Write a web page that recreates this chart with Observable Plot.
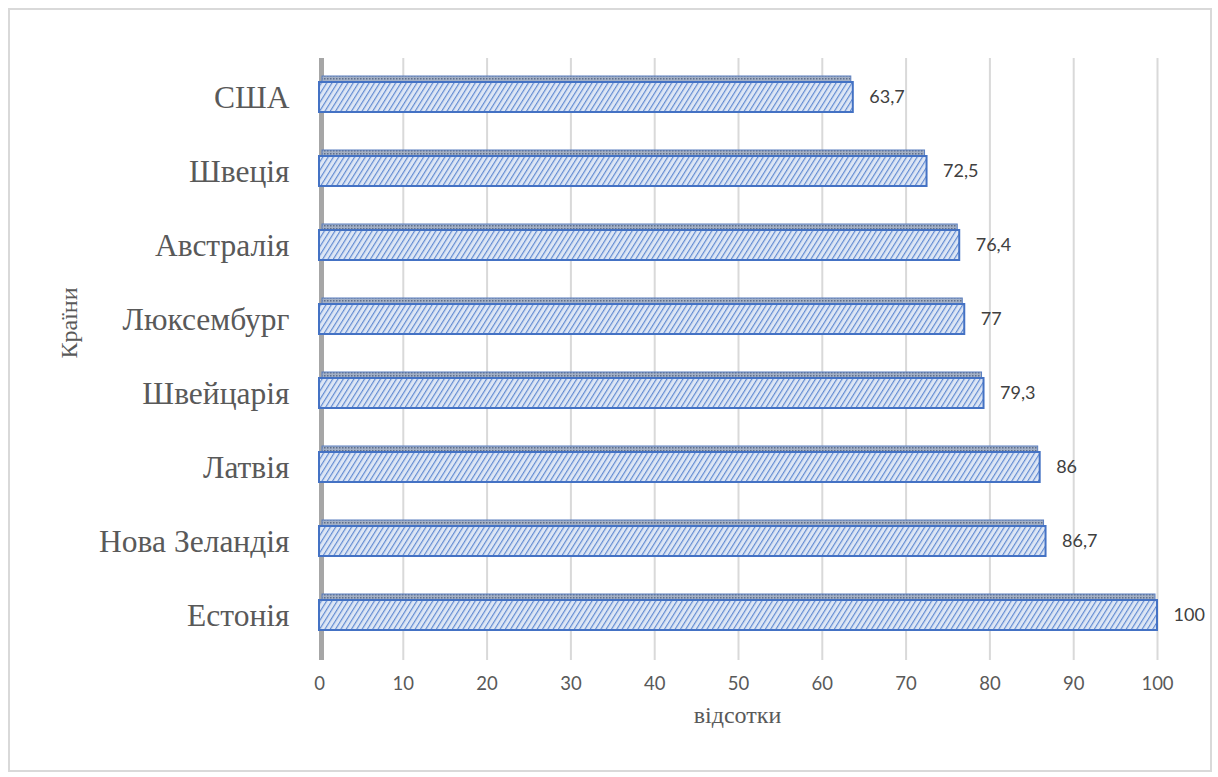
<!DOCTYPE html>
<html>
<head>
<meta charset="utf-8">
<script src="https://cdn.jsdelivr.net/npm/d3@7"></script>
<script src="https://cdn.jsdelivr.net/npm/@observablehq/plot@0.6"></script>
<style>
  html, body { margin: 0; padding: 0; background: #fff; }
  #frame { position: absolute; left: 8px; top: 8px; width: 1200px; height: 760px; border: 2px solid #d9d9d9; }
  #chart { position: absolute; left: 0; top: 0; }
</style>
</head>
<body>
<div id="frame"></div>
<div id="chart"></div>
<script>
const countries = ["США", "Швеція", "Австралія", "Люксембург", "Швейцарія", "Латвія", "Нова Зеландія", "Естонія"];
const values = [63.7, 72.5, 76.4, 77, 79.3, 86, 86.7, 100];
const valueLabels = ["63,7", "72,5", "76,4", "77", "79,3", "86", "86,7", "100"];
const xTicks = [0, 10, 20, 30, 40, 50, 60, 70, 80, 90, 100];
const yTitle = "Країни";
const xTitle = "відсотки";

const data = countries.map((c, i) => ({country: c, value: values[i], label: valueLabels[i]}));

const chart = Plot.plot({
  width: 1218,
  height: 777,
  marginLeft: 319,
  marginRight: 61,
  marginTop: 60,
  marginBottom: 125,
  style: {background: "transparent", overflow: "visible"},
  x: {domain: [0, 100], ticks: xTicks},
  y: {domain: countries, paddingInner: 0.6, paddingOuter: 0.3},
  marks: [
    Plot.ruleX(xTicks.slice(1), {stroke: "#d9d9d9", strokeWidth: 2, insetTop: -2, insetBottom: -8}),
    Plot.ruleX([0], {stroke: "#a6a6a6", strokeWidth: 5, dx: 2, insetTop: -2, insetBottom: -8}),
    Plot.barX(data, {x: "value", y: "country", fill: "url(#topface)", stroke: "#5b7fbf", strokeWidth: 1, dy: -6, insetBottom: 22, insetLeft: 3, insetRight: 2}),
    Plot.barX(data, {x: "value", y: "country", fill: "url(#hatch)", stroke: "#4472c4", strokeWidth: 2}),
    Plot.text(data, {x: "value", y: "country", text: "label", textAnchor: "start", dx: 16, fontSize: 18, fill: "#404040", fontFamily: "Lato, 'Open Sans', sans-serif"}),
    Plot.axisX({ticks: xTicks, tickSize: 0, tickPadding: 24, fontSize: 18.5, fill: "#595959", fontFamily: "Lato, 'Open Sans', sans-serif", label: null}),
    Plot.axisY({tickSize: 0, tickPadding: 30, fontSize: 31.5, fill: "#595959", fontFamily: "'Liberation Serif', 'Times New Roman', serif", label: null}),
    Plot.text([yTitle], {frameAnchor: "left", dx: -250, dy: 2, rotate: -90, fontSize: 24, fill: "#595959", fontFamily: "'Liberation Serif', 'Times New Roman', serif"}),
    Plot.text([xTitle], {frameAnchor: "bottom", dy: 70, dx: -1, fontSize: 24, fill: "#595959", fontFamily: "'Liberation Serif', 'Times New Roman', serif"})
  ]
});

const svg = d3.select(chart);
svg.insert("defs", ":first-child").html(`
  <pattern id="hatch" patternUnits="userSpaceOnUse" width="4.5" height="4.5" patternTransform="rotate(32)">
    <rect width="4.5" height="4.5" fill="#dde6f5"></rect>
    <line x1="1.5" y1="0" x2="1.5" y2="4.5" stroke="#5a85cf" stroke-width="1.1"></line>
  </pattern>
  <pattern id="topface" patternUnits="userSpaceOnUse" width="3" height="3">
    <rect width="3" height="3" fill="#a3b0c6"></rect>
    <rect width="1.5" height="1.5" fill="#5f6f8a"></rect>
  </pattern>
`);
document.getElementById("chart").appendChild(chart);
</script>
</body>
</html>
